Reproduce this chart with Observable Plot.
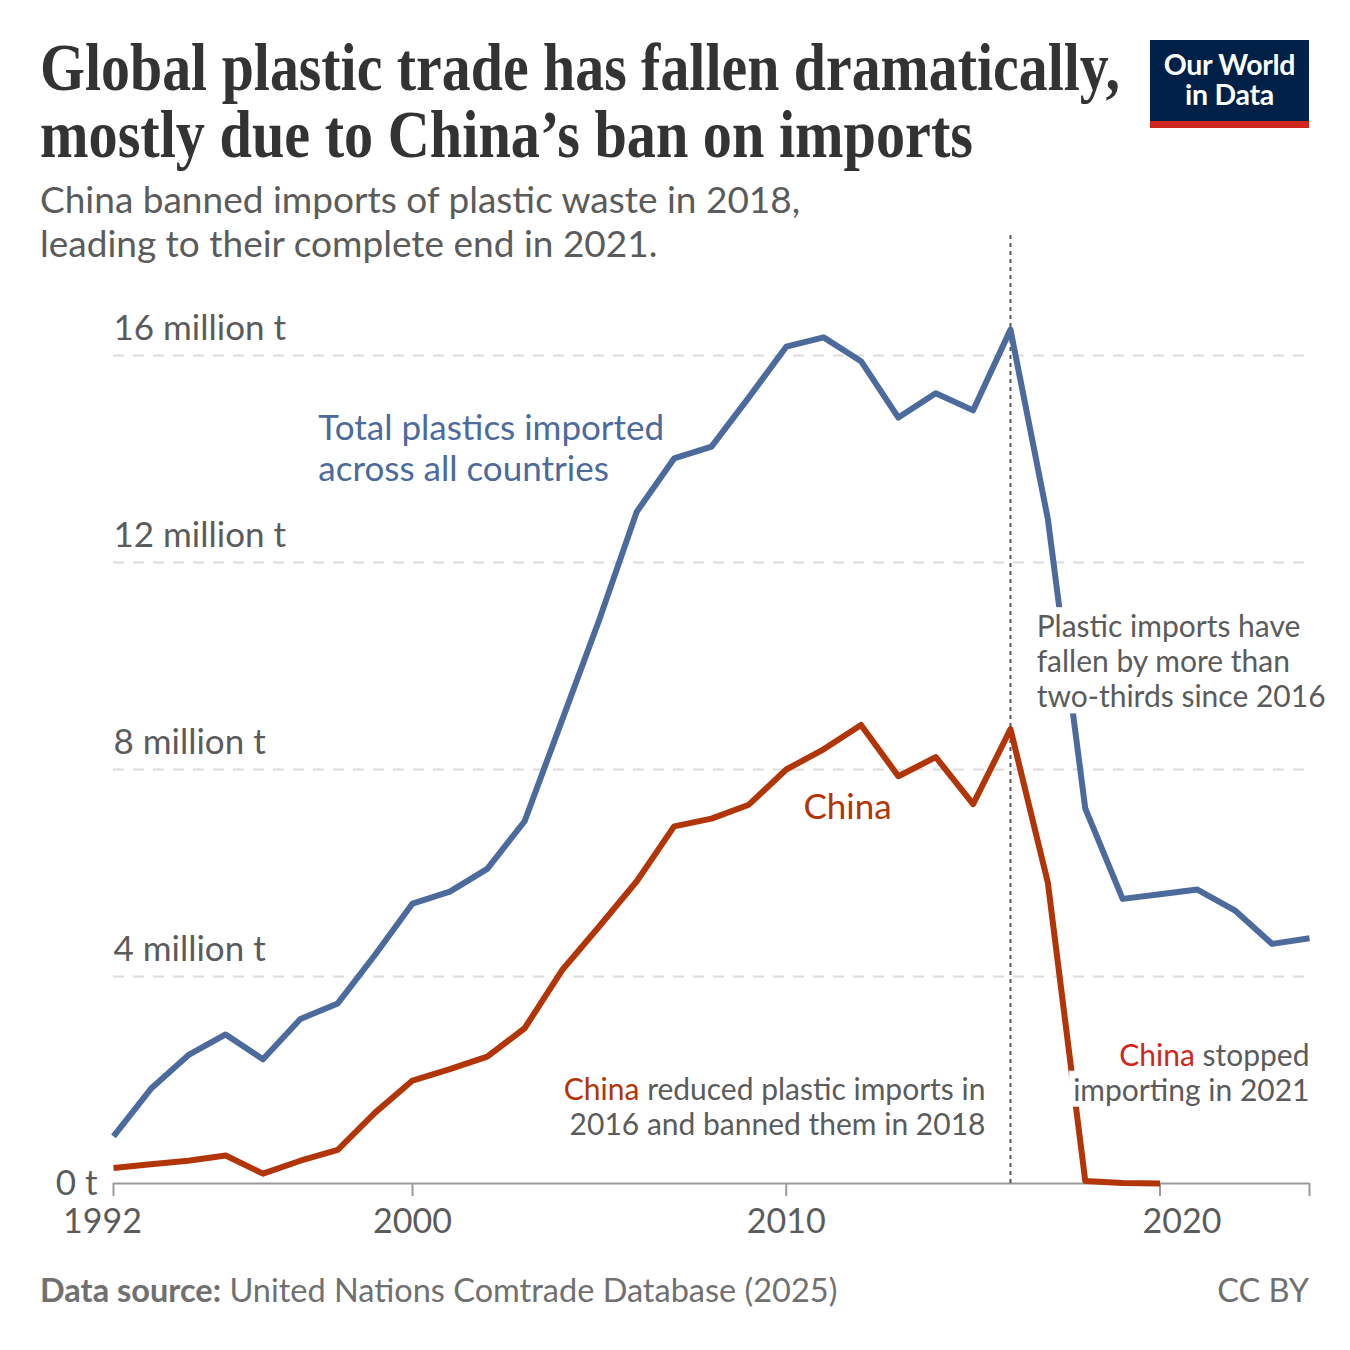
<!DOCTYPE html>
<html>
<head>
<meta charset="utf-8">
<script src="https://cdn.jsdelivr.net/npm/d3@7"></script>
<script src="https://cdn.jsdelivr.net/npm/@observablehq/plot@0.6"></script>
<style>
  body { margin: 0; background: #fff; }
  #wrap { position: relative; width: 1350px; height: 1350px; background: #fff; overflow: hidden; font-family: Lato, sans-serif; }
  .title { position: absolute; z-index: 2; left: 40px; font-family: "Liberation Serif", serif; font-weight: 700; color: #333; font-size: 68px; line-height: 66px; white-space: nowrap; transform-origin: 0 0; }
  .sub { position: absolute; z-index: 2; left: 40px; font-size: 37px; line-height: 37px; color: #5b5b5b; white-space: nowrap; }
  #logo { position: absolute; z-index: 2; left: 1150px; top: 40px; width: 159px; height: 88px; box-sizing: border-box; background: #002147; border-bottom: 7px solid #ce261e; color: #fff; font-weight: 700; font-size: 28.5px; line-height: 30px; text-align: center; padding-top: 9px; letter-spacing: -0.3px; }
  #chart { position: absolute; z-index: 1; left: 0; top: 225px; }
  .foot { position: absolute; z-index: 2; top: 1274px; font-size: 32.5px; line-height: 32px; color: #707070; white-space: nowrap; }
</style>
</head>
<body>
<div id="wrap">
  <div class="title" id="t1">Global plastic trade has fallen dramatically,</div>
  <div class="title" id="t2">mostly due to China’s ban on imports</div>
  <div class="sub" style="top:180px">China banned imports of plastic waste in 2018,</div>
  <div class="sub" style="top:224px">leading to their complete end in 2021.</div>
  <div id="logo">Our World<br>in Data</div>
  <div id="chart"></div>
  <div class="foot" style="left:40px"><b>Data source:</b> United Nations Comtrade Database (2025)</div>
  <div class="foot" style="right:41px">CC BY</div>
</div>
<script>
// ---- data (million tonnes) ----
const yearsTotal = [1992,1993,1994,1995,1996,1997,1998,1999,2000,2001,2002,2003,2004,2005,2006,2007,2008,2009,2010,2011,2012,2013,2014,2015,2016,2017,2018,2019,2020,2021,2022,2023,2024];
const totalImports = [0.91,1.83,2.48,2.88,2.40,3.18,3.48,4.42,5.41,5.64,6.08,7.00,8.95,10.90,12.98,14.01,14.24,15.19,16.17,16.35,15.89,14.80,15.27,14.94,16.50,12.84,7.25,5.50,5.59,5.68,5.28,4.63,4.74];
const yearsChina = [1992,1993,1994,1995,1996,1997,1998,1999,2000,2001,2002,2003,2004,2005,2006,2007,2008,2009,2010,2011,2012,2013,2014,2015,2016,2017,2018,2019,2020];
const chinaImports = [0.30,0.37,0.44,0.54,0.19,0.44,0.65,1.37,1.99,2.21,2.45,3.00,4.12,4.97,5.84,6.90,7.05,7.32,8.00,8.39,8.86,7.87,8.24,7.33,8.78,5.81,0.05,0.01,0.00];
const yTicks = [4, 8, 12, 16];
const xTicks = [1992, 2000, 2010, 2020, 2024];
const xLabelsCentered = [2000, 2010];
const xLabelLeft = [1992];
const xLabelRight = [2020];
const markerYear = 2016;
const markerTop = 18.38;

const blue = "#4c6a9c";
const red = "#b13507";
const brightRed = "#d0271d";
const gray = "#5b5b5b";

const total = yearsTotal.map((y, i) => ({year: y, value: totalImports[i]}));
const china = yearsChina.map((y, i) => ({year: y, value: chinaImports[i]}));

const notes = [
  {x: 1997.48, y: 13.57, text: "Total plastics imported\nacross all countries", anchor: "start", fill: blue, size: 35, bg: false},
  {x: 2010.46, y: 7.05, text: "China", anchor: "start", fill: red, size: 35, bg: false},
  {x: 2016.70, y: 9.20, text: "Plastic imports have\nfallen by more than\ntwo-thirds since 2016", anchor: "start", fill: gray, size: 30, bg: true},
  {x: 2015.33, y: 0.93, text: "China reduced plastic imports in\n2016 and banned them in 2018", anchor: "end", fill: gray, size: 30, bg: false},
  {x: 2024, y: 1.60, text: "China stopped\nimporting in 2021", anchor: "end", fill: gray, size: 30, bg: true}
];

const W = 1350, H = 1030;
const y0 = 958, pxPerUnit = 51.75;

const textMarks = notes.map(n => Plot.text([n], {
  x: "x", y: "y", text: "text", textAnchor: n.anchor, lineAnchor: "bottom",
  lineHeight: 1.17, fontSize: n.size, fill: n.fill, className: n.bg ? "bgnote" : "note"
}));

const plot = Plot.plot({
  width: W, height: H,
  marginLeft: 113, marginRight: 41, marginTop: 6, marginBottom: H - y0,
  x: {domain: [1992, 2024], range: [113, 1309]},
  y: {domain: [0, 16], range: [y0, y0 - 16 * pxPerUnit], axis: null},
  style: {fontFamily: "Lato, sans-serif", background: "transparent", overflow: "visible"},
  marks: [
    Plot.ruleY(yTicks, {y: d => d, x1: 1992, x2: 2024, stroke: "#dcdcdc", strokeWidth: 2, strokeDasharray: "11,9"}),
    Plot.ruleY([0], {y: d => d, x1: 1992, x2: 2024, stroke: "#9a9a9a", strokeWidth: 2}),
    Plot.axisX({ticks: xTicks, tickSize: 13, tickFormat: () => "", stroke: "#9a9a9a", strokeWidth: 2, label: null}),
    Plot.ruleX([markerYear], {x: d => d, y1: 0, y2: markerTop, stroke: "#555", strokeWidth: 2, strokeDasharray: "4,4"}),
    Plot.text(yTicks, {x: 1992, y: d => d, text: d => `${d} million t`, textAnchor: "start", lineAnchor: "bottom", dy: -16, fontSize: 35, fill: "#5b5b5b"}),
    Plot.text([0], {x: 1992, y: d => d, text: d => `${d} t`, textAnchor: "end", lineAnchor: "bottom", dx: -16, dy: 11, fontSize: 35, fill: "#5b5b5b"}),
    Plot.text(xLabelsCentered, {x: d => d, y: 0, text: d => String(d), lineAnchor: "bottom", dy: 49, fontSize: 34, fill: "#5b5b5b"}),
    Plot.text(xLabelLeft, {x: d => d, y: 0, text: d => String(d), lineAnchor: "bottom", dy: 49, dx: -11, fontSize: 34, fill: "#5b5b5b"}),
    Plot.text(xLabelRight, {x: d => d, y: 0, text: d => String(d), lineAnchor: "bottom", dy: 49, dx: 22, fontSize: 34, fill: "#5b5b5b"}),
    Plot.line(total, {x: "year", y: "value", stroke: blue, strokeWidth: 6, strokeLinejoin: "round", strokeLinecap: "butt"}),
    Plot.line(china, {x: "year", y: "value", stroke: red, strokeWidth: 6, strokeLinejoin: "round", strokeLinecap: "butt"}),
    ...textMarks
  ]
});
document.getElementById("chart").appendChild(plot);

// colour the word "China" inside annotations
const chinaColors = {"China reduced": red, "China stopped": brightRed};
plot.querySelectorAll("tspan").forEach(el => {
  const t = el.textContent;
  for (const key in chinaColors) {
    if (el.children.length === 0 && t.startsWith(key)) {
      el.textContent = "";
      const s = document.createElementNS("http://www.w3.org/2000/svg", "tspan");
      s.setAttribute("fill", chinaColors[key]);
      s.textContent = "China";
      el.appendChild(s);
      el.appendChild(document.createTextNode(t.slice(5)));
    }
  }
});

// white boxes behind annotation lines that cross the data lines
plot.querySelectorAll("g.bgnote text").forEach(txt => {
  const parent = txt.parentNode;
  const lines = txt.querySelectorAll(":scope > tspan");
  const items = lines.length ? Array.from(lines) : [txt];
  items.forEach(item => {
    let b;
    try { b = item.getBBox(); } catch (e) { b = txt.getBBox(); }
    const r = document.createElementNS("http://www.w3.org/2000/svg", "rect");
    r.setAttribute("x", b.x - 4);
    r.setAttribute("y", b.y);
    r.setAttribute("width", b.width + 8);
    r.setAttribute("height", b.height);
    r.setAttribute("fill", "white");
    if (txt.getAttribute("transform")) r.setAttribute("transform", txt.getAttribute("transform"));
    parent.insertBefore(r, txt);
  });
});

// fit title lines to their widths in the reference
const fit = (id, target) => {
  const el = document.getElementById(id);
  const w = el.getBoundingClientRect().width;
  el.style.transform = `scaleX(${target / w})`;
};
document.getElementById("t1").style.top = "34px";
document.getElementById("t2").style.top = "101px";
fit("t1", 1080);
fit("t2", 933);
</script>
</body>
</html>
